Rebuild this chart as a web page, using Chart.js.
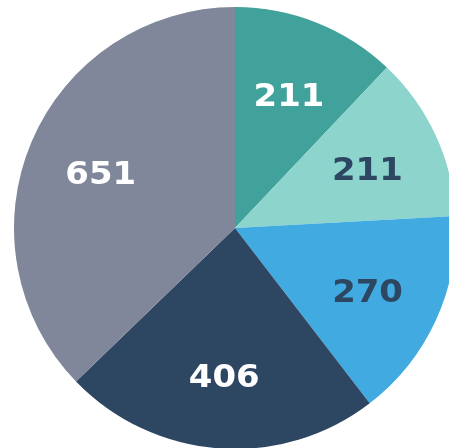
<!DOCTYPE html>
<html>
<head>
    <script src="https://cdn.jsdelivr.net/npm/chart.js@4/dist/chart.umd.min.js"></script>
    <style>
        html, body { margin: 0; padding: 0; overflow: hidden; background: #fff; }
    </style>
</head>
<body>
    <canvas id="pieChart" width="470" height="456"></canvas>
    <script>
        var labels = ['A', 'B', 'C', 'D', 'E'];
        var values = [211, 211, 270, 406, 651];
        var colors = ['#41a29b', '#8dd4cd', '#41abe1', '#2d4661', '#81879b'];
        var textColors = ['#ffffff', '#2d4661', '#2d4661', '#ffffff', '#ffffff'];

        // labels inside slices
        const sliceLabels = {
            id: 'sliceLabels',
            afterDatasetsDraw(chart) {
                const ctx = chart.ctx;
                const meta = chart.getDatasetMeta(0);
                ctx.save();
                ctx.font = 'bold 32px "DejaVu Sans"';
                ctx.textAlign = 'center';
                ctx.textBaseline = 'middle';
                meta.data.forEach((arc, i) => {
                    const p = arc.getProps(['x', 'y', 'startAngle', 'endAngle', 'outerRadius'], true);
                    const mid = (p.startAngle + p.endAngle) / 2;
                    const r = p.outerRadius * 0.66;
                    const tx = p.x + Math.cos(mid) * r;
                    const ty = p.y + Math.sin(mid) * r + 5;
                    ctx.save();
                    ctx.translate(tx, ty);
                    ctx.scale(1.06, 1);
                    ctx.fillStyle = textColors[i];
                    ctx.fillText(String(values[i]), 0, 0);
                    ctx.restore();
                });
                ctx.restore();
            }
        };

        var pieCtx = document.getElementById('pieChart').getContext('2d');
        var pieChart = new Chart(pieCtx, {
            type: 'pie',
            data: {
                labels: labels,
                datasets: [{
                    data: values,
                    backgroundColor: colors,
                    borderWidth: 0
                }]
            },
            options: {
                responsive: false,
                animation: false,
                layout: { padding: { top: 7, bottom: 7, left: 14, right: 14 } },
                plugins: {
                    legend: { display: false },
                    tooltip: { enabled: false }
                }
            },
            plugins: [sliceLabels]
        });
    </script>
</body>
</html>
